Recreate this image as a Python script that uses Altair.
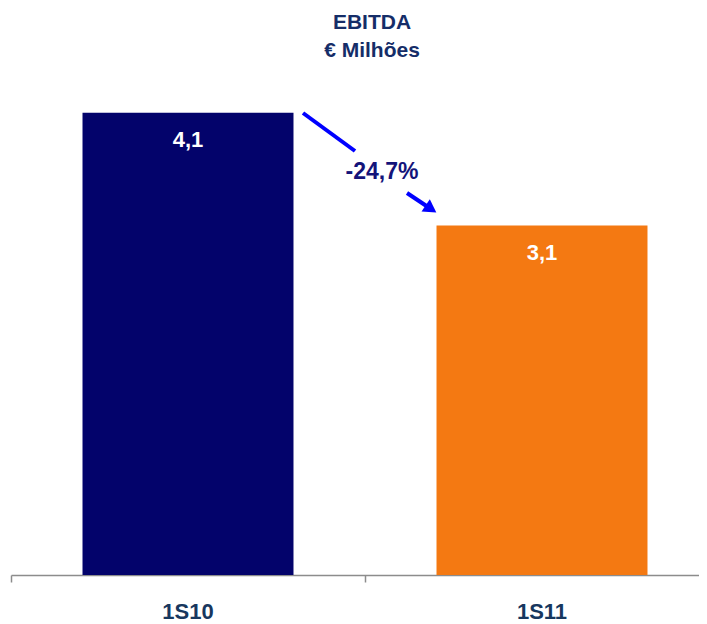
import altair as alt
import pandas as pd

# ---- data ----
categories = ["1S10", "1S11"]
values = [4.1, 3.1]
value_labels = ["4,1", "3,1"]
bar_colors = ["#03036B", "#F47912"]
title_lines = ["EBITDA", "€ Milhões"]
change_label = ["-24,7%"]

FONT = "Liberation Sans"

df = pd.DataFrame({"cat": categories, "val": values, "lab": value_labels})
df["idx"] = range(len(categories))
t1_df = pd.DataFrame({"t": [title_lines[0]]})
t2_df = pd.DataFrame({"t": [title_lines[1]]})
pct_df = pd.DataFrame({"t": change_label})
one = pd.DataFrame({"k": [0]})

W, H = 688, 497
xscale = alt.Scale(domain=[0, W / 354], nice=False, zero=False)
yscale = alt.Scale(domain=[0, 4.409], nice=False)

base = alt.Chart(df).transform_calculate(
    x0="datum.idx + 0.202", x1="datum.idx + 0.798", xm="datum.idx + 0.5"
)

bars = base.mark_bar().encode(
    x=alt.X(
        "x0:Q", scale=xscale,
        axis=alt.Axis(
            title=None, values=[0, 1], labels=False, grid=False, tickSize=7,
            domainColor="#8C8C8C", tickColor="#8C8C8C", domainWidth=1.5, tickWidth=1.5,
        ),
    ),
    x2="x1:Q",
    y=alt.Y("val:Q", scale=yscale, axis=None),
    y2=alt.datum(0),
    color=alt.Color("cat:N", scale=alt.Scale(domain=categories, range=bar_colors), legend=None),
)

labels = base.mark_text(
    font=FONT, fontSize=22, fontWeight="bold", color="white", baseline="middle", dy=27
).encode(x=alt.X("xm:Q", scale=xscale), y=alt.Y("val:Q", scale=yscale), text="lab:N")

cat_labels = base.mark_text(
    font=FONT, fontSize=22, fontWeight="bold", color="#17375E", baseline="middle"
).encode(x=alt.X("xm:Q", scale=xscale), y=alt.value(H + 37), text="cat:N")

t1 = alt.Chart(t1_df).mark_text(
    font=FONT, fontSize=21, fontWeight="bold", color="#152D68", baseline="middle"
).encode(x=alt.value(361), y=alt.value(-55), text="t:N")
t2 = alt.Chart(t2_df).mark_text(
    font=FONT, fontSize=21, fontWeight="bold", color="#152D68", baseline="middle"
).encode(x=alt.value(361), y=alt.value(-27), text="t:N")

seg1 = alt.Chart(one).mark_rule(color="#0000FF", strokeWidth=4).encode(
    x=alt.value(292), y=alt.value(35), x2=alt.value(344), y2=alt.value(73)
)
seg2 = alt.Chart(one).mark_rule(color="#0000FF", strokeWidth=4).encode(
    x=alt.value(396), y=alt.value(115), x2=alt.value(420), y2=alt.value(131)
)
head = alt.Chart(one).mark_point(
    shape="triangle-right", filled=True, color="#0000FF", size=220, angle=34, opacity=1
).encode(x=alt.value(420), y=alt.value(131))

pct = alt.Chart(pct_df).mark_text(
    font=FONT, fontSize=23, fontWeight="bold", color="#14147A", baseline="middle"
).encode(x=alt.value(371), y=alt.value(94), text="t:N")

chart = (
    alt.layer(bars, labels, cat_labels, t1, t2, seg1, seg2, head, pct)
    .properties(
        width=W,
        height=H,
        autosize=alt.AutoSizeParams(type="none"),
        padding={"left": 3, "top": 70, "right": 0, "bottom": 49},
    )
    .configure_view(stroke=None)
)

chart.save("out.html", embed_options={"renderer": "svg", "actions": False})
